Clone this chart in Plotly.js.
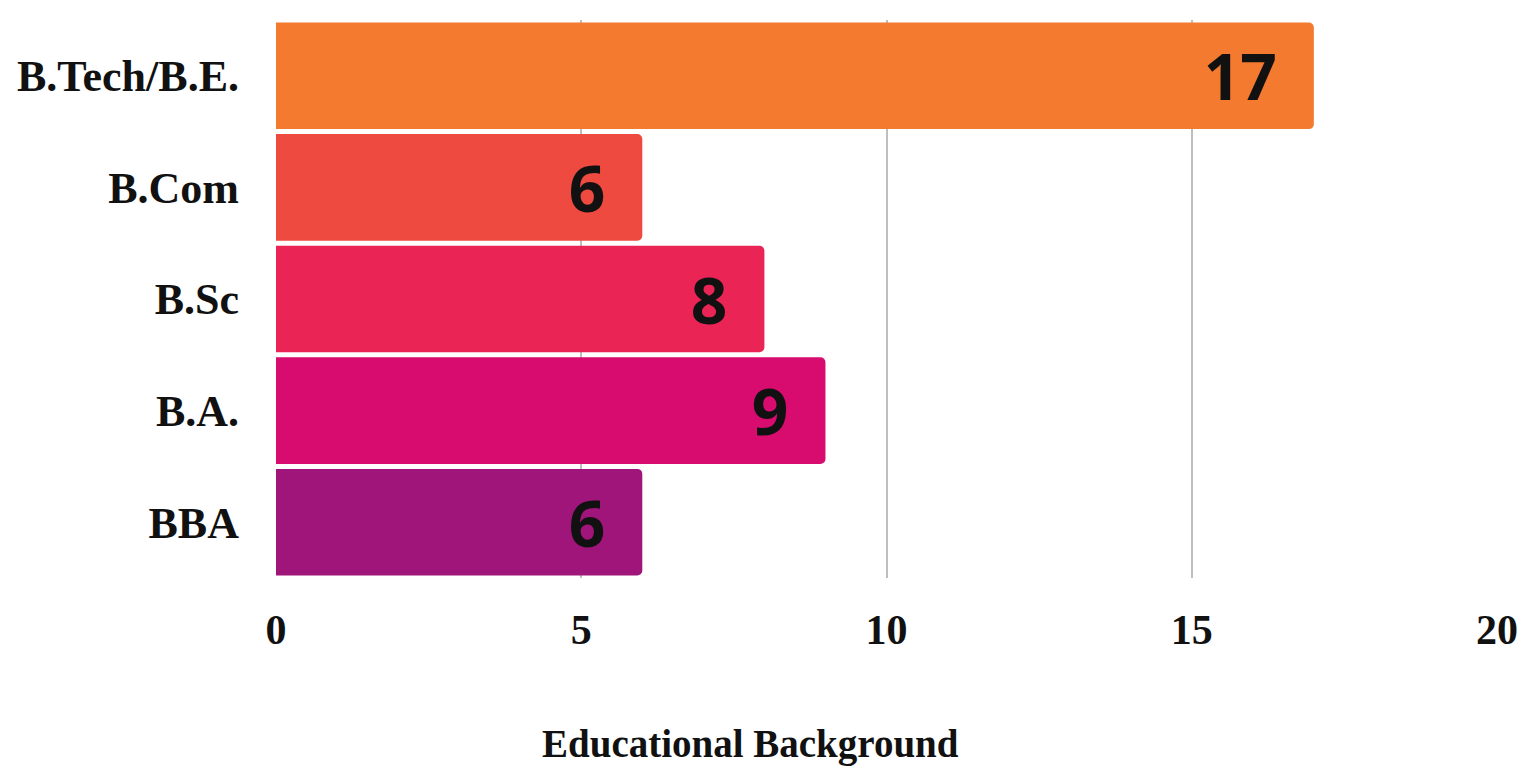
<!DOCTYPE html>
<html>
<head>
<meta charset="utf-8">
<script src="https://cdn.plot.ly/plotly-3.0.1.min.js"></script>
<style>html,body{margin:0;padding:0;background:#fff;}#chart{width:1525px;height:769px;}</style>
</head>
<body>
<div id="chart"></div>
<script>
const categories = ["B.Tech/B.E.", "B.Com", "B.Sc", "B.A.", "BBA"];
const counts = [17, 6, 8, 9, 6];
const barColors = ["#F47A30", "#EE4A3F", "#EA2556", "#D80B6E", "#A0157A"];
const xTickValues = [0, 5, 10, 15, 20];
const axisTitle = "Educational Background";

const trace = {
  type: "bar",
  orientation: "h",
  y: categories,
  x: counts,
  marker: { color: barColors, cornerradius: 5, line: { width: 0 } },
  text: counts.map(v => String(v) + "\u2002"),
  textposition: "inside",
  insidetextanchor: "end",
  textfont: { family: "Open Sans", size: 64, color: "#111111", weight: 700 },
  hoverinfo: "none"
};

const layout = {
  width: 1525,
  height: 769,
  margin: { l: 276, r: 28, t: 20, b: 191 },
  paper_bgcolor: "#ffffff",
  plot_bgcolor: "#ffffff",
  bargap: 0.045,
  showlegend: false,
  xaxis: {
    range: [0, 20],
    tickvals: xTickValues,
    ticktext: xTickValues.map(String),
    showgrid: true,
    gridcolor: "#BEBEBE",
    gridwidth: 2,
    zeroline: false,
    showline: false,
    ticks: "",
    ticklabelstandoff: 23,
    tickfont: { family: "Liberation Serif", size: 42, color: "#111111", weight: 700 },
    fixedrange: true
  },
  yaxis: {
    categoryorder: "array",
    categoryarray: categories,
    autorange: "reversed",
    showgrid: false,
    zeroline: false,
    showline: false,
    ticks: "",
    ticklabelstandoff: 36,
    tickfont: { family: "Liberation Serif", size: 44, color: "#111111", weight: 700 },
    fixedrange: true
  },
  annotations: [{
    text: axisTitle,
    xref: "paper", yref: "paper",
    x: 0.389, y: -0.298,
    xanchor: "center", yanchor: "middle",
    showarrow: false,
    font: { family: "Liberation Serif", size: 39, color: "#111111", weight: 700 }
  }]
};

Plotly.newPlot("chart", [trace], layout, { displayModeBar: false, staticPlot: true });
</script>
</body>
</html>
